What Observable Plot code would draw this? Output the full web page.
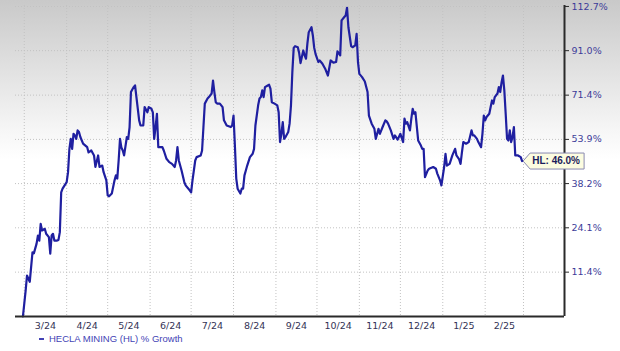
<!DOCTYPE html>
<html><head><meta charset="utf-8">
<script src="https://cdn.jsdelivr.net/npm/d3@7"></script>
<script src="https://cdn.jsdelivr.net/npm/@observablehq/plot@0.6"></script>
<style>
html,body{margin:0;padding:0;}
body{width:620px;height:351px;overflow:hidden;position:relative;
  background:linear-gradient(to bottom,#c9c9c9 0px,#f6f6f6 130px,#ffffff 160px);
  font-family:"DejaVu Sans",Verdana,sans-serif;}
#chart{position:absolute;left:0;top:0;}
#legend{position:absolute;left:39px;top:332px;height:13px;display:flex;align-items:center;
  font:9.5px "Liberation Sans",Arial,sans-serif;color:#4343b5;white-space:nowrap;}
#legend .sw{display:inline-block;width:5px;height:2px;background:#4343b5;margin-right:5px;}
</style></head><body>
<div id="chart"></div>
<div id="legend"><span class="sw"></span><span id="legendText"></span></div>
<script>
const seriesName = "HECLA MINING (HL) % Growth";
const ticker = "HL";

const dates = [
"2024-02-29","2024-03-02","2024-03-03","2024-03-05","2024-03-07","2024-03-08","2024-03-10","2024-03-11","2024-03-12","2024-03-13","2024-03-14","2024-03-16","2024-03-17","2024-03-19","2024-03-20","2024-03-21","2024-03-22","2024-03-23","2024-03-25","2024-03-26","2024-03-27","2024-03-28","2024-03-29",
"2024-04-01","2024-04-02","2024-04-03","2024-04-04","2024-04-05","2024-04-06","2024-04-07","2024-04-08","2024-04-09","2024-04-10","2024-04-11","2024-04-13","2024-04-16","2024-04-17","2024-04-19","2024-04-21","2024-04-22","2024-04-24","2024-04-25","2024-04-27","2024-04-28","2024-04-30",
"2024-05-01","2024-05-02","2024-05-04","2024-05-06","2024-05-07","2024-05-08","2024-05-09","2024-05-10","2024-05-11","2024-05-12","2024-05-13","2024-05-15","2024-05-16","2024-05-17","2024-05-18","2024-05-20","2024-05-21","2024-05-22","2024-05-24","2024-05-25","2024-05-27","2024-05-28","2024-05-30","2024-05-31",
"2024-06-02","2024-06-03","2024-06-04","2024-06-05","2024-06-06","2024-06-07","2024-06-10","2024-06-11","2024-06-13","2024-06-15","2024-06-17","2024-06-19","2024-06-20","2024-06-21","2024-06-22","2024-06-23","2024-06-24","2024-06-26","2024-06-27","2024-06-29",
"2024-07-01","2024-07-02","2024-07-04","2024-07-05","2024-07-08","2024-07-09","2024-07-10","2024-07-11","2024-07-13","2024-07-14","2024-07-16","2024-07-17","2024-07-18","2024-07-19","2024-07-20","2024-07-22","2024-07-24","2024-07-25","2024-07-27","2024-07-30","2024-07-31",
"2024-08-01","2024-08-02","2024-08-03","2024-08-04","2024-08-06","2024-08-07","2024-08-08","2024-08-09","2024-08-10","2024-08-11","2024-08-13","2024-08-15","2024-08-16","2024-08-17","2024-08-19","2024-08-20","2024-08-21","2024-08-22","2024-08-23","2024-08-24","2024-08-26","2024-08-27","2024-08-28","2024-08-29","2024-08-31",
"2024-09-02","2024-09-03","2024-09-04","2024-09-05","2024-09-06","2024-09-07","2024-09-08","2024-09-10","2024-09-11","2024-09-12","2024-09-13","2024-09-14","2024-09-15","2024-09-17","2024-09-18","2024-09-19","2024-09-20","2024-09-21","2024-09-22","2024-09-23","2024-09-24","2024-09-25","2024-09-27","2024-09-28","2024-09-29","2024-09-30",
"2024-10-02","2024-10-03","2024-10-05","2024-10-07","2024-10-09","2024-10-11","2024-10-13","2024-10-15","2024-10-16","2024-10-18","2024-10-19","2024-10-21","2024-10-22","2024-10-23","2024-10-24","2024-10-26","2024-10-27","2024-10-29","2024-10-30","2024-10-31",
"2024-11-01","2024-11-03","2024-11-05","2024-11-07","2024-11-08","2024-11-10","2024-11-12","2024-11-13","2024-11-15","2024-11-16","2024-11-18","2024-11-20","2024-11-21","2024-11-22","2024-11-24","2024-11-26","2024-11-27","2024-11-29",
"2024-12-01","2024-12-03","2024-12-04","2024-12-05","2024-12-06","2024-12-08","2024-12-09","2024-12-10","2024-12-11","2024-12-12","2024-12-14","2024-12-16","2024-12-17","2024-12-18","2024-12-19","2024-12-21","2024-12-22","2024-12-25","2024-12-27","2024-12-28","2024-12-30","2024-12-31",
"2025-01-02","2025-01-03","2025-01-04","2025-01-06","2025-01-08","2025-01-10","2025-01-11","2025-01-13","2025-01-14","2025-01-15","2025-01-16","2025-01-18","2025-01-20","2025-01-22","2025-01-23","2025-01-24","2025-01-26","2025-01-27","2025-01-29","2025-01-30","2025-01-31",
"2025-02-01","2025-02-02","2025-02-04","2025-02-05","2025-02-06","2025-02-07","2025-02-08","2025-02-10","2025-02-11","2025-02-12","2025-02-13","2025-02-14","2025-02-15","2025-02-16","2025-02-17","2025-02-18","2025-02-19","2025-02-20","2025-02-21","2025-02-22","2025-02-23","2025-02-25","2025-02-27","2025-02-28"
];

const growth = [
0, 6.5, 10.5, 8.8, 16.9, 16.6, 19.4, 21.8, 20.3, 25.3, 23.3, 23.8, 22.3, 21.3, 16.5, 21.8, 22.3, 20.3, 20.3, 20.5, 22.8, 35.3, 36.5,
38.7, 42.1, 50.4, 54.1, 50.4, 56.0, 55.4, 54.1, 57.3, 56.7, 54.8, 52.3, 51.0, 49.1, 49.8, 48.0, 43.9, 48.0, 43.9, 44.4, 42.1, 39.3,
34.3, 34.0, 34.9, 39.3, 41.0, 39.9, 46.2, 54.1, 50.9, 49.8, 48.0, 54.8, 54.1, 58.6, 72.7, 74.8, 75.5, 70.6, 61.2, 59.2, 59.2, 66.5, 64.4, 66.5,
65.8, 64.4, 54.1, 58.6, 63.8, 51.0, 51.0, 49.8, 46.8, 45.6, 45.0, 43.9, 46.2, 51.0, 46.2, 44.4, 42.7, 38.7, 37.6, 36.5,
35.3, 39.3, 46.2, 47.4, 48.0, 49.8, 58.6, 67.9, 70.0, 70.6, 72.1, 77.6, 72.7, 68.5, 67.9, 67.9, 66.5, 61.2, 59.2, 58.6, 59.2,
63.1, 51.6, 39.9, 36.5, 34.9, 36.5, 36.5, 41.0, 42.7, 44.4, 47.4, 48.6, 50.4, 59.2, 67.2, 70.0, 70.6, 73.4, 70.6, 74.8, 75.5, 75.8, 74.1, 68.5, 67.9,
67.2, 64.4, 52.9, 56.0, 60.5, 54.1, 54.8, 56.7, 59.9, 67.2, 81.3, 92.3, 93.1, 92.6, 89.9, 85.3, 88.2, 91.1, 88.8, 87.3, 94.3, 99.8, 102.2, 98.2, 92.3, 89.4,
85.8, 86.5, 85.0, 82.8, 79.8, 86.5, 85.5, 85.8, 90.7, 88.8, 105.6, 107.3, 108.1, 112.0, 102.2, 93.1, 92.6, 93.5, 99.0, 85.8,
80.5, 79.1, 77.2, 72.7, 63.1, 59.9, 57.9, 54.1, 57.9, 56.0, 58.6, 61.2, 60.8, 59.9, 57.3, 54.1, 55.4, 53.8,
56.0, 52.9, 61.9, 59.9, 60.5, 57.3, 61.9, 65.8, 63.8, 64.4, 53.5, 51.6, 50.4, 50.4, 40.4, 42.7, 43.3, 43.9, 43.3, 41.6, 39.3, 37.6,
43.9, 48.6, 44.4, 45.0, 48.0, 50.4, 48.0, 46.6, 45.0, 49.1, 52.9, 52.3, 52.9, 57.3, 55.4, 55.4, 54.1, 52.9, 51.0, 56.0, 63.1,
61.2, 62.5, 63.8, 66.5, 69.2, 67.9, 70.6, 72.1, 74.8, 72.7, 76.9, 79.8, 73.4, 63.8, 54.1, 53.5, 57.3, 52.9, 54.8, 58.6, 48.0, 48.0, 47.4, 46.0
];

const yTicks = [11.4, 24.1, 38.2, 53.9, 71.4, 91.0, 112.7];
const yTickLabels = ["11.4%", "24.1%", "38.2%", "53.9%", "71.4%", "91.0%", "112.7%"];
const monthStarts = ["2024-03-01","2024-04-01","2024-05-01","2024-06-01","2024-07-01","2024-08-01","2024-09-01","2024-10-01","2024-11-01","2024-12-01","2025-01-01","2025-02-01","2025-03-01"];
const monthLabels = ["3/24","4/24","5/24","6/24","7/24","8/24","9/24","10/24","11/24","12/24","1/25","2/25"];

document.getElementById("legendText").textContent = seriesName;

const toRatio = g => 1 + g / 100;
const data = dates.map((d, i) => ({date: new Date(d), ratio: toRatio(growth[i]), g: growth[i]}));
const gridDates = monthStarts.map(d => new Date(d));
const labelDates = monthLabels.map((_, i) => new Date((+gridDates[i] + +gridDates[i + 1]) / 2));
const labelByTime = new Map(labelDates.map((d, i) => [+d, monthLabels[i]]));
const yLabelByRatio = new Map(yTicks.map((t, i) => [toRatio(t), yTickLabels[i]]));
const last = data[data.length - 1];
const xDomain = [new Date(Date.UTC(2024, 1, 23, 14)), new Date(Date.UTC(2025, 2, 31))];

const calloutShape = {draw(ctx) {
  ctx.moveTo(1, 0); ctx.lineTo(8, -8); ctx.lineTo(62, -8);
  ctx.lineTo(62, 8); ctx.lineTo(8, 8); ctx.closePath();
}};

const chart = Plot.plot({
  width: 620, height: 332,
  marginTop: 5, marginBottom: 16, marginLeft: 15, marginRight: 56,
  style: {background: "transparent", overflow: "visible"},
  x: {type: "utc", domain: xDomain},
  y: {type: "log", domain: [1, 2.132]},
  marks: [
    Plot.ruleY(yTicks.map(toRatio), {stroke: "#c2c2c2", strokeDasharray: "1,2"}),
    Plot.ruleX(gridDates, {stroke: "#c2c2c2", strokeDasharray: "1,2"}),
    Plot.line(data, {x: "date", y: "ratio", stroke: "#1f1fa0", strokeWidth: 2.2}),
    Plot.ruleY([1], {stroke: "#2a2a2a", strokeWidth: 2}),
    Plot.ruleX([xDomain[1]], {stroke: "#2a2a2a", strokeWidth: 2}),
    Plot.axisY(yTicks.map(toRatio), {anchor: "right", label: null, tickSize: 4, tickPadding: 3,
      tickFormat: r => yLabelByRatio.get(r), stroke: "#2a2a2a", fill: "#3d3d99",
      fontSize: 9.5, fontFamily: "DejaVu Sans"}),
    Plot.axisX(labelDates, {anchor: "bottom", label: null, tickSize: 0, tickPadding: 6,
      tickFormat: d => labelByTime.get(+d), fill: "#333355",
      fontSize: 9.5, fontFamily: "DejaVu Sans"}),
    Plot.dot([last], {x: "date", y: "ratio", symbol: calloutShape, r: 3,
      fill: "#fcfce0", stroke: "#8a8ab0", strokeWidth: 1}),
    Plot.text([last], {x: "date", y: "ratio", text: d => `${ticker}: ${d.g.toFixed(1)}%`,
      dx: 34, fontWeight: "bold", fontSize: 10, fontFamily: "Liberation Sans", fill: "#1c1c5c"})
  ]
});
document.getElementById("chart").appendChild(chart);
</script>
</body></html>
